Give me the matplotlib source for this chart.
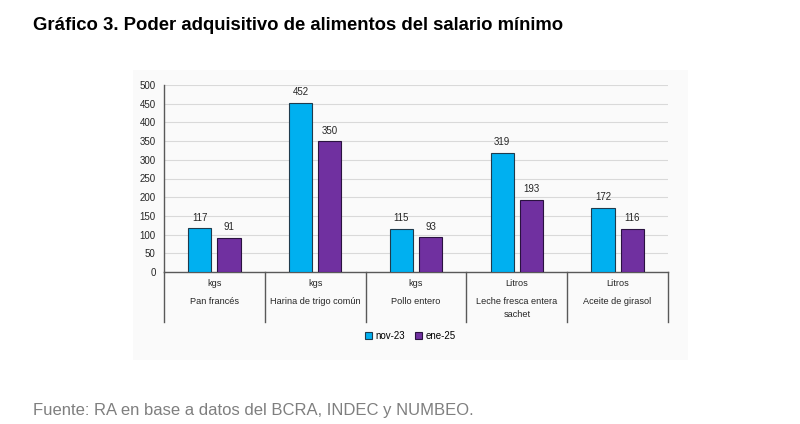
import matplotlib
matplotlib.use("Agg")
import matplotlib.pyplot as plt
from matplotlib.patches import Rectangle
import numpy as np

categories = ["Pan francés", "Harina de trigo común", "Pollo entero", "Leche fresca entera\nsachet", "Aceite de girasol"]
units = ["kgs", "kgs", "kgs", "Litros", "Litros"]
series_names = ["nov-23", "ene-25"]
nov23 = [117, 452, 115, 319, 172]
ene25 = [91, 350, 93, 193, 116]
yticks = [0, 50, 100, 150, 200, 250, 300, 350, 400, 450, 500]

plt.rcParams['font.family'] = ['Liberation Sans', 'DejaVu Sans']

W, H = 800, 424
fig = plt.figure(figsize=(W/100, H/100), dpi=100)
fig.patch.set_facecolor("white")

# faint chart background
fig.patches.append(Rectangle((133/W, 1-360/H), (688-133)/W, (360-70)/H,
                             transform=fig.transFigure, facecolor="#fafafa",
                             edgecolor="none", zorder=-10))

left, right = 164/W, 668/W
bottom, top = 1-272/H, 1-85/H
ax = fig.add_axes([left, bottom, right-left, top-bottom])
ax.set_zorder(1)
ax.set_facecolor("none")

x = np.arange(len(categories))
w = 0.23
off = 0.145
c1, c2 = "#00B0F0", "#7030A0"
b1 = ax.bar(x - off, nov23, w, color=c1, edgecolor="#1f3b4d", linewidth=0.8, zorder=3, label=series_names[0])
b2 = ax.bar(x + off, ene25, w, color=c2, edgecolor="#2a1240", linewidth=0.8, zorder=3, label=series_names[1])
for bars, vals in ((b1, nov23), (b2, ene25)):
    for b, v in zip(bars, vals):
        ax.annotate(str(v), (b.get_x() + b.get_width()/2, v), xytext=(0, 4),
                    textcoords="offset points", ha="center", va="bottom",
                    fontsize=7, color="#262626")

ax.set_xlim(-0.5, len(categories) - 0.5)
ax.set_ylim(0, 500)
ax.set_yticks(yticks)
ax.tick_params(axis="y", length=0, labelsize=7, labelcolor="#262626", pad=6)
ax.set_xticks([])
ax.grid(axis="y", color="#d9d9d9", linewidth=0.8, zorder=0)
for s in ["top", "right"]:
    ax.spines[s].set_visible(False)
ax.spines["left"].set_color("#595959")
ax.spines["bottom"].set_color("#595959")
ax.spines["left"].set_linewidth(1.0)
ax.spines["bottom"].set_linewidth(1.0)

# category separators below axis
trans = ax.get_xaxis_transform()
sep_len = (322-272)/(272-85)
for xs in np.arange(-0.5, len(categories), 1.0):
    ax.plot([xs, xs], [0, -sep_len], transform=trans, color="#595959",
            linewidth=1.0, clip_on=False)

for i, (u, c) in enumerate(zip(units, categories)):
    ax.text(i, -(284-272)/(272-85), u, transform=trans, ha="center", va="center",
            fontsize=6.6, color="#262626")
    ax.text(i, -(297-272)/(272-85), c, transform=trans, ha="center", va="top",
            fontsize=6.6, color="#262626", linespacing=1.6)

fig.legend(handles=[b1, b2], labels=series_names, loc="center",
           bbox_to_anchor=(410/W, 1-336/H), ncol=2, frameon=False, fontsize=7,
           handlelength=0.8, handleheight=0.8, handletextpad=0.3, columnspacing=1.0)

fig.text(33/W, 1-25/H, "Gráfico 3. Poder adquisitivo de alimentos del salario mínimo",
         fontsize=13.3, fontweight="bold", ha="left", va="center", color="black")
fig.text(33/W, 1-410/H, "Fuente: RA en base a datos del BCRA, INDEC y NUMBEO.",
         fontsize=12, ha="left", va="center", color="#7f7f7f")

fig.savefig("out.png", dpi=100)
